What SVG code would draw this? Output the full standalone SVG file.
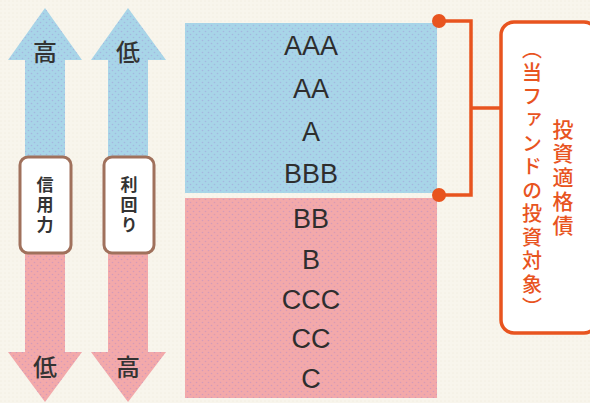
<svg xmlns="http://www.w3.org/2000/svg" width="590" height="403" viewBox="0 0 590 403">
<defs>
<pattern id="dots" width="6" height="6" patternUnits="userSpaceOnUse">
<circle cx="1.5" cy="1.5" r="0.8" fill="#9a7fd0" fill-opacity="0.35"/>
<circle cx="4.5" cy="4.5" r="0.8" fill="#9a7fd0" fill-opacity="0.35"/>
</pattern>
<pattern id="bgtex" width="4" height="4" patternUnits="userSpaceOnUse">
<circle cx="1" cy="1" r="0.6" fill="#e3dccb" fill-opacity="0.6"/>
</pattern>
</defs>
<style>
.up{fill:#a8d5e8}
.down{fill:#f3a9aa}
.lbl{fill:#fff;stroke:#a0715c;stroke-width:3}
.jp{font-family:"Noto Sans CJK JP","Noto Sans",sans-serif;fill:#333;font-weight:500}
.vl{font-family:"Noto Sans CJK JP","Noto Sans",sans-serif;fill:#333;font-weight:bold;font-size:17px;text-anchor:middle;writing-mode:vertical-rl;letter-spacing:3px}
.rt{font-family:"Liberation Sans",Arial,sans-serif;font-size:27px;fill:#2e2e2e;text-anchor:middle}
.or{fill:#e8541f}
.orl{stroke:#e8541f;stroke-width:3.5;fill:none}
.ojp{font-family:"Noto Sans CJK JP","Noto Sans",sans-serif;fill:#e8541f;font-weight:500;writing-mode:vertical-rl;text-anchor:middle}
</style>
<rect width="590" height="403" fill="#f8f5ec"/>
<rect width="590" height="403" fill="url(#bgtex)"/>

<g id="arrow-credit">
<polygon class="up" points="45,8 82,60 65,60 65,160 25,160 25,60 8,60"/>
<polygon class="down" points="25,250 65,250 65,352 82,352 45,402 8,352 25,352"/>
<polygon points="45,8 82,60 65,60 65,160 25,160 25,60 8,60" fill="url(#dots)"/>
<polygon points="25,250 65,250 65,352 82,352 45,402 8,352 25,352" fill="url(#dots)"/>
<rect class="lbl" x="20" y="157" width="51" height="96" rx="8"/>
<text class="jp" x="45" y="61" font-size="24" text-anchor="middle">高</text>
<text class="jp" x="45" y="376" font-size="24" text-anchor="middle">低</text>
<text class="vl" x="45" y="206">信用力</text>
</g>

<g id="arrow-yield">
<polygon class="up" points="128,8 166,60 148,60 148,160 108,160 108,60 91,60"/>
<polygon class="down" points="108,250 148,250 148,352 166,352 128,402 91,352 108,352"/>
<polygon points="128,8 166,60 148,60 148,160 108,160 108,60 91,60" fill="url(#dots)"/>
<polygon points="108,250 148,250 148,352 166,352 128,402 91,352 108,352" fill="url(#dots)"/>
<rect class="lbl" x="104" y="157" width="50" height="96" rx="8"/>
<text class="jp" x="128" y="61" font-size="24" text-anchor="middle">低</text>
<text class="jp" x="128" y="376" font-size="24" text-anchor="middle">高</text>
<text class="vl" x="129" y="206">利回り</text>
</g>

<g id="investment-grade">
<rect class="up" x="185" y="23" width="252" height="170"/>
<rect x="185" y="23" width="252" height="170" fill="url(#dots)"/>
<text class="rt" x="311" y="55">AAA</text>
<text class="rt" x="311" y="98">AA</text>
<text class="rt" x="311" y="141">A</text>
<text class="rt" x="311" y="183">BBB</text>
</g>

<g id="speculative-grade">
<rect class="down" x="185" y="198" width="252" height="200"/>
<rect x="185" y="198" width="252" height="200" fill="url(#dots)"/>
<text class="rt" x="311" y="228">BB</text>
<text class="rt" x="311" y="269">B</text>
<text class="rt" x="311" y="309">CCC</text>
<text class="rt" x="311" y="348">CC</text>
<text class="rt" x="311" y="388">C</text>
</g>

<g id="connectors">
<path class="orl" d="M439,21 H471 V195 H439 M471,108 H500"/>
<circle class="or" cx="439" cy="21" r="7"/>
<circle class="or" cx="439" cy="195" r="7"/>
</g>

<g id="target-label">
<rect x="501" y="22" width="96" height="311" rx="13" fill="#fff" stroke="#e8541f" stroke-width="3.5"/>
<text class="ojp" x="563" y="179" font-size="21" style="letter-spacing:3px">投資適格債</text>
<text class="ojp" x="532" y="180" font-size="20" style="letter-spacing:3.5px">（当ファンドの投資対象）</text>
</g>
</svg>
